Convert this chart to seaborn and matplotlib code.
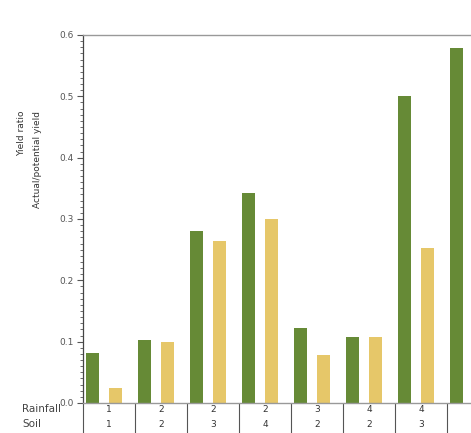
"""Yield ratio by rainfall / soil class — grouped bars with a category table."""

import matplotlib

matplotlib.use("Agg")

import matplotlib.pyplot as plt
import numpy as np
import pandas as pd
import seaborn as sns
from matplotlib.ticker import FormatStrFormatter, MultipleLocator

# data (last group is cut off at the right edge)
rainfall = ["1", "2", "2", "2", "3", "4", "4", ""]
soil = ["1", "2", "3", "4", "2", "2", "3", ""]
series_a = [0.081, 0.103, 0.280, 0.342, 0.122, 0.108, 0.500, 0.579]
series_b = [0.024, 0.100, 0.264, 0.300, 0.078, 0.108, 0.253, np.nan]
series_names = ["A", "B"]

GREEN = "#668a36"
YELLOW = "#e6c769"

n = len(rainfall)
df = pd.DataFrame(
    {
        "group": list(range(n)) * 2,
        "value": series_a + series_b,
        "series": [series_names[0]] * n + [series_names[1]] * n,
    }
)

sns.set_style("white")
plt.rcParams["font.family"] = ["DejaVu Sans"]

W, H = 471, 433
fig = plt.figure(figsize=(W / 100, H / 100), dpi=100)
# axes run past the right edge, like the clipped original
ax = fig.add_axes([83 / W, 30 / H, 416 / W, 368 / H])

sns.barplot(
    data=df,
    x="group",
    y="value",
    hue="series",
    palette=[GREEN, YELLOW],
    saturation=1,
    width=0.885,
    gap=0.435,
    legend=False,
    ax=ax,
    native_scale=True,
    errorbar=None,
    linewidth=0,
)

left = -0.404
ax.set_xlim(left, left + n)
ax.set_ylim(0, 0.6)
ax.set_xticks([])
ax.set_xlabel("")
ax.set_ylabel("")

ax.yaxis.set_major_locator(MultipleLocator(0.1))
ax.yaxis.set_minor_locator(MultipleLocator(0.01))
ax.yaxis.set_major_formatter(FormatStrFormatter("%.1f"))
ax.tick_params(axis="y", which="major", left=True, length=4, width=0.8,
               color="#555555", labelsize=6.5, labelcolor="#555555", pad=3)
ax.tick_params(axis="y", which="minor", left=True, length=2, width=0.6,
               color="#555555")

for side in ["top", "right", "bottom"]:
    ax.spines[side].set_color("#999999")
    ax.spines[side].set_linewidth(1.0)
ax.spines["left"].set_color("#444444")
ax.spines["left"].set_linewidth(0.9)

# y label, two lines aligned at their ends
fig.text(22 / W, 1 - 111 / H, "Yield ratio", rotation=90, ha="center",
         va="top", fontsize=6.5, color="#333333")
fig.text(37 / W, 1 - 111 / H, "Actual/potential yield", rotation=90,
         ha="center", va="top", fontsize=6.5, color="#333333")

# category table under the axis
trans = ax.get_xaxis_transform()
row_y = [-0.018, -0.059]
for i in range(n + 1):
    ax.plot([left + i, left + i], [0, -0.09], transform=trans,
            color="#555555", lw=0.8, clip_on=False)
for i in range(n):
    ax.text(left + i + 0.5, row_y[0], rainfall[i], transform=trans,
            ha="center", va="center", fontsize=6.5, color="#333333")
    ax.text(left + i + 0.5, row_y[1], soil[i], transform=trans,
            ha="center", va="center", fontsize=6.5, color="#333333")
fig.text(22 / W, 1 - 409 / H, "Rainfall", ha="left", va="center",
         fontsize=7.5, color="#444444")
fig.text(22 / W, 1 - 424 / H, "Soil", ha="left", va="center",
         fontsize=7.5, color="#444444")

fig.savefig("out.png", dpi=100)
